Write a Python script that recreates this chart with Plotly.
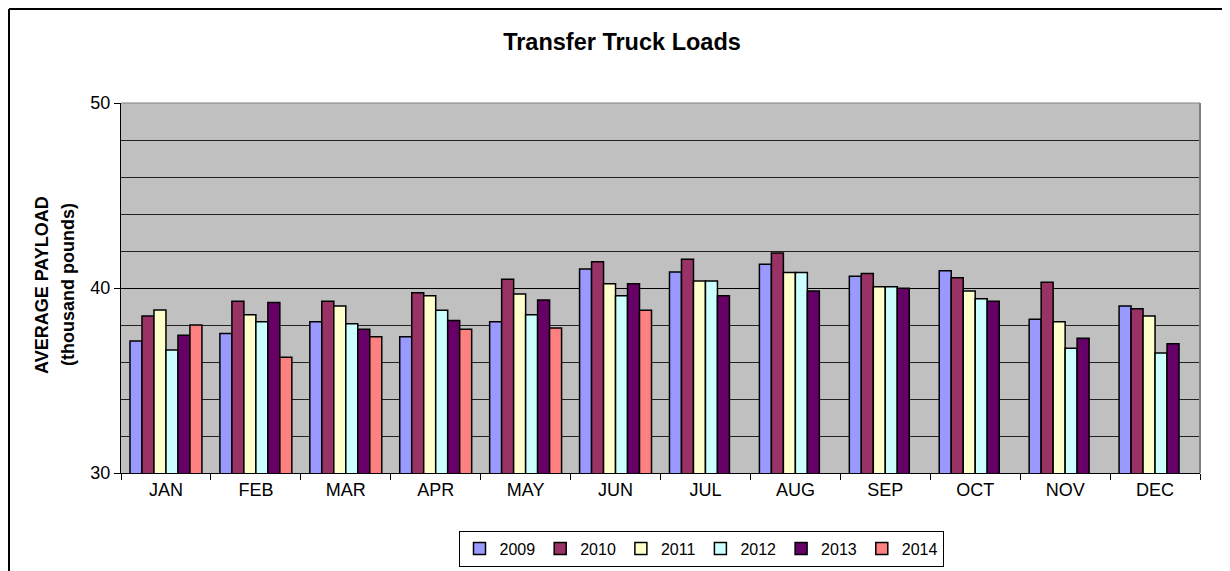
import plotly.graph_objects as go

months = ["JAN", "FEB", "MAR", "APR", "MAY", "JUN", "JUL", "AUG", "SEP", "OCT", "NOV", "DEC"]

y2009 = [37.14, 37.54, 38.17, 37.37, 38.17, 41.03, 40.86, 41.28, 40.63, 40.93, 38.31, 39.03]
y2010 = [38.49, 39.28, 39.28, 39.75, 40.47, 41.42, 41.56, 41.89, 40.79, 40.56, 40.31, 38.88]
y2011 = [38.81, 38.56, 39.03, 39.58, 39.68, 40.23, 40.38, 40.84, 40.07, 39.84, 38.18, 38.49]
y2012 = [36.65, 38.17, 38.07, 38.80, 38.56, 39.58, 40.38, 40.84, 40.07, 39.42, 36.75, 36.49]
y2013 = [37.45, 39.21, 37.77, 38.24, 39.35, 40.23, 39.58, 39.84, 39.98, 39.28, 37.29, 36.98]
y2014 = [38.00, 36.26, 37.37, 37.77, 37.84, 38.80, None, None, None, None, None, None]

series = [
    ("2009", y2009, "#9999FF"),
    ("2010", y2010, "#993366"),
    ("2011", y2011, "#FFFFCC"),
    ("2012", y2012, "#CCFFFF"),
    ("2013", y2013, "#660066"),
    ("2014", y2014, "#FF8080"),
]

FONT = "Arial, 'Liberation Sans', sans-serif"

fig = go.Figure()
for name, vals, col in series:
    fig.add_trace(go.Bar(
        x=months, y=vals, name=name,
        marker=dict(color=col, line=dict(color="black", width=1.5)),
    ))

# page has an 8px body margin; work in page pixel coordinates
OFF = 8
W, H = 1230 - OFF, 571 - OFF
PL, PR, PT, PB = 121, 1200, 103, 473   # plot area in page px
L = PL - OFF
R = W - (PR - OFF)
T = PT - OFF
B = H - (PB - OFF)
pw = PR - PL
ph = PB - PT

def px2x(px):
    return (px - PL) / pw

def py2y(py):
    return (PB - py) / ph

fig.update_layout(
    width=W, height=H,
    margin=dict(l=L, r=R, t=T, b=B, autoexpand=False),
    paper_bgcolor="white",
    plot_bgcolor="#C0C0C0",
    barmode="group",
    bargap=0.2,
    bargroupgap=0,
    font=dict(family=FONT, size=18, color="black"),
    title=dict(
        text="<b>Transfer Truck Loads</b>",
        x=(622 - OFF) / W, xanchor="center",
        y=1 - (42 - OFF) / H, yanchor="middle",
        font=dict(family=FONT, size=23.5, color="black"),
    ),
    showlegend=True,
    legend=dict(
        orientation="h",
        x=px2x(701), xanchor="center",
        y=py2y(548.5), yanchor="middle",
        bordercolor="black", borderwidth=1,
        bgcolor="white",
        font=dict(family=FONT, size=16, color="black"),
        itemwidth=30,
        traceorder="normal",
    ),
    xaxis=dict(
        type="category",
        showline=True, linecolor="black", linewidth=1,
        ticks="outside", ticklen=6, tickcolor="black",
        tickson="boundaries",
        showgrid=False,
        tickfont=dict(family=FONT, size=18, color="black"),
        fixedrange=True,
    ),
    yaxis=dict(
        range=[30, 50],
        tickvals=[30, 40, 50],
        showline=True, linecolor="black", linewidth=1,
        ticks="outside", ticklen=6, tickcolor="black",
        showgrid=True, gridcolor="black", gridwidth=1,
        minor=dict(dtick=2, showgrid=True, gridcolor="#222222", gridwidth=1, ticks=""),
        zeroline=False,
        tickfont=dict(family=FONT, size=18, color="black"),
        title=None,
        fixedrange=True,
    ),
)

# y-axis title (two lines, bold)
fig.add_annotation(
    text="<b>AVERAGE PAYLOAD</b>", textangle=-90,
    xref="paper", yref="paper",
    x=px2x(42), y=py2y(285), xanchor="center", yanchor="middle",
    showarrow=False, font=dict(family=FONT, size=18, color="black"),
)
fig.add_annotation(
    text="<b>(thousand pounds)</b>", textangle=-90,
    xref="paper", yref="paper",
    x=px2x(68), y=py2y(285), xanchor="center", yanchor="middle",
    showarrow=False, font=dict(family=FONT, size=18, color="black"),
)

# plot area top/right border (gray)
fig.add_shape(type="line", xref="paper", yref="paper",
              x0=0, x1=1, y0=1, y1=1, line=dict(color="#808080", width=1), layer="above")
fig.add_shape(type="line", xref="paper", yref="paper",
              x0=1, x1=1, y0=0, y1=1, line=dict(color="#808080", width=2), layer="above")

# outer chart border (left and top visible)
fig.add_shape(type="line", xref="paper", yref="paper",
              x0=px2x(9), x1=px2x(9), y0=py2y(580), y1=py2y(9),
              line=dict(color="black", width=2))
fig.add_shape(type="line", xref="paper", yref="paper",
              x0=px2x(9), x1=px2x(1240), y0=py2y(9), y1=py2y(9),
              line=dict(color="black", width=2))

fig.write_html("out.html")
